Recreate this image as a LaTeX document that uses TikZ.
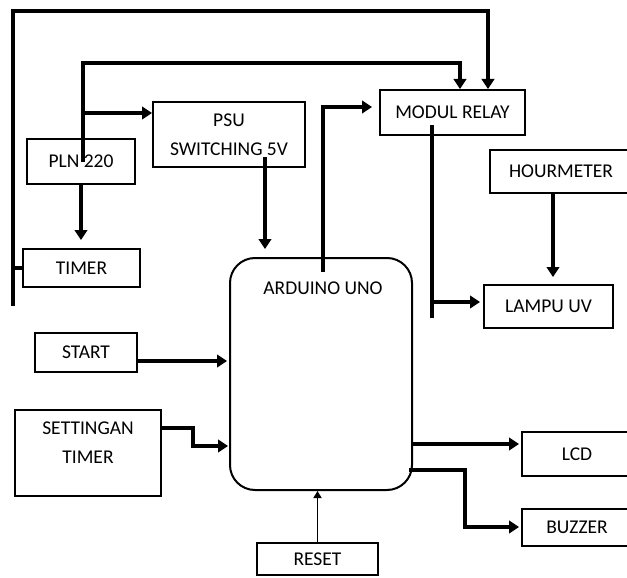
\documentclass[tikz,border=0pt]{standalone}
\usepackage{fontspec}
\setmainfont{Carlito}
\usetikzlibrary{arrows.meta,calc}
\begin{document}
\begin{tikzpicture}[x=1pt,y=-1pt,
  box/.style={draw,line width=2pt,rectangle,inner sep=0pt,font=\fontsize{19.5}{29}\selectfont,align=center},
  lbl/.style={inner sep=0pt,font=\fontsize{19.5}{29}\selectfont,align=center},
  conn/.style={line width=3.6pt,-{Triangle[length=10pt,width=12.5pt]}},
  wire/.style={line width=3.6pt},
  thinconn/.style={line width=1.6pt,-{Triangle[length=7pt,width=8pt]}}]
\useasboundingbox (0,0) rectangle (627,578);
\clip (0,0) rectangle (627,578);
\fill[white] (0,0) rectangle (627,578);

% boxes
\node[box,minimum width=108pt,minimum height=45pt] (pln) at (81,161.5) {PLN 220};
\node[box,minimum width=152pt,minimum height=65pt] (psu) at (229,134.5) {PSU\\SWITCHING 5V};
\node[box,minimum width=117pt,minimum height=38pt] (timer) at (81.5,268) {TIMER};
\node[draw,line width=2pt,rounded corners=25pt,minimum width=182pt,minimum height=232pt,inner sep=0pt] (ard) at (321,374) {};
\node[lbl] (ardlbl) at (323,288) {ARDUINO UNO};
\node[box,minimum width=145pt,minimum height=45pt] (relay) at (452.5,112.5) {MODUL RELAY};
\node[box,minimum width=142pt,minimum height=43pt] (hour) at (561,171.5) {HOURMETER};
\node[box,minimum width=129pt,minimum height=43pt] (lampu) at (548.5,306.5) {LAMPU UV};
\node[box,minimum width=102pt,minimum height=39pt] (start) at (86,352.5) {START};
\node[box,minimum width=146pt,minimum height=86pt] (sett) at (88,453) {};
\node[lbl] (settlbl) at (88,443) {SETTINGAN\\TIMER};
\node[box,minimum width=110pt,minimum height=44pt] (lcd) at (577,454) {LCD};
\node[box,minimum width=110pt,minimum height=37pt] (buzzer) at (577,527.5) {BUZZER};
\node[box,minimum width=121pt,minimum height=32pt] (reset) at (317.5,559) {RESET};

% coordinates
\coordinate (lb) at (13,306);
\coordinate (tl) at (13,11);
\coordinate (rx) at (488,0);
\coordinate (c1) at (83,63);
\coordinate (c2) at (460,0);
\coordinate (c3) at (83,113);
\coordinate (c4) at (265,157);
\coordinate (c5) at (323,272);
\coordinate (c6) at (323,107);
\coordinate (c7) at (432,125);
\coordinate (c8) at (432,318);
\coordinate (c9) at (432,302);
\coordinate (hx) at (553,0);
\coordinate (c10) at (137,361);
\coordinate (c11) at (193,428);
\coordinate (c12) at (193,446);
\coordinate (c13) at (0,444);
\coordinate (c14) at (409,470);
\coordinate (c15) at (465,470);
\coordinate (c16) at (465,527);

% connectors
\draw[conn] (lb) -- (tl) -| (relay.north -| rx);
\draw[wire] (timer.west) -- (timer.west -| lb);
\draw[conn] (pln.center -| c1) -- (c1) -| (relay.north -| c2);
\draw[conn] (c3) -- (psu.west |- c3);
\draw[conn,shorten >=8pt] (pln.south) -- (pln.south |- timer.north);
\draw[conn,shorten >=8pt] (c4) -- (c4 |- ard.north);
\draw[conn,shorten >=7pt] (c5) -- (c6) -- (c6 -| relay.west);
\draw[wire] (c7) -- (c8);
\draw[conn,shorten >=3pt] (c9) -- (c9 -| lampu.west);
\draw[conn,shorten >=7pt] (hour.south -| hx) -- (lampu.north -| hx);
\draw[conn,shorten >=2pt] (start.east |- c10) -- (ard.west |- c10);
\draw[conn,shorten >=1pt] (sett.east |- c11) -- (c11) -- (c12) -- (ard.west |- c12);
\draw[conn,shorten >=2pt] (ard.east |- c13) -- (lcd.west |- c13);
\draw[conn,shorten >=2pt] (c14) -- (c15) -- (c16) -- (buzzer.west |- c16);
\draw[thinconn] (reset.north) -- (reset.north |- ard.south);
\end{tikzpicture}
\end{document}
